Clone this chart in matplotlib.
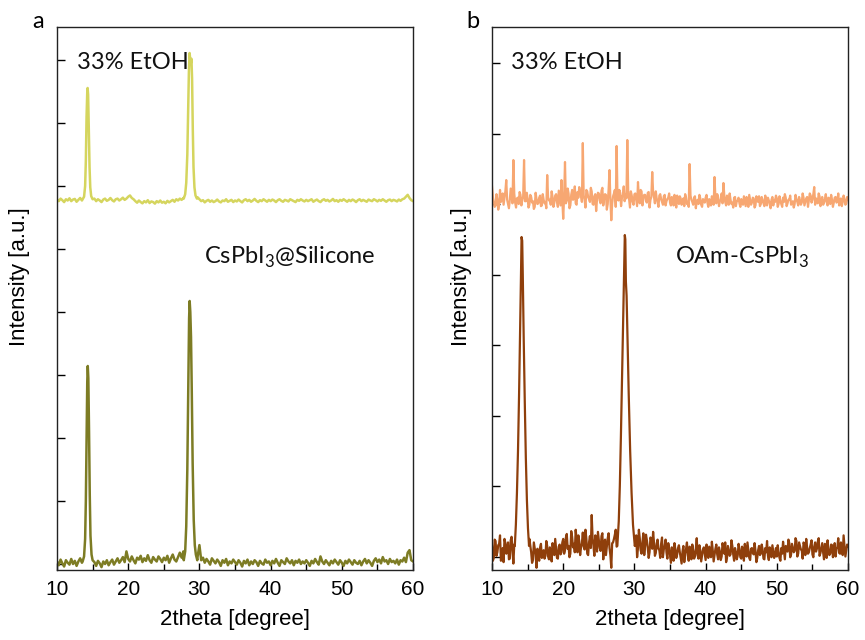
import numpy as np
import matplotlib
matplotlib.use("Agg")
import matplotlib.pyplot as plt
from matplotlib.ticker import MultipleLocator

plt.rcParams['font.family'] = ['Liberation Sans', 'DejaVu Sans']
plt.rcParams['mathtext.fontset'] = 'custom'
plt.rcParams['mathtext.rm'] = 'Lato'

# 2theta grid of the background points (0.25 deg steps) and the in-between points
tt_grid = np.linspace(10, 60, 201)
tt_mid = np.linspace(10.125, 59.875, 200)

# panel a, top: 33% EtOH (CsPbI3@Silicone)
a_top_base = [
    5790, 5760, 5800, 5775, 5745, 5790, 5770, 5805, 5760, 5785, 5795, 5750, 5780, 5810, 5770, 5790, 5780, 5790, 5800, 5785,
    5775, 5800, 5760, 5790, 5770, 5745, 5785, 5800, 5765, 5780, 5810, 5775, 5755, 5790, 5800, 5770, 5790, 5815, 5780, 5800,
    5830, 5850, 5810, 5790, 5760, 5735, 5770, 5745, 5725, 5760, 5740, 5775, 5730, 5755, 5745, 5720, 5760, 5740, 5770, 5735,
    5750, 5725, 5765, 5740, 5760, 5780, 5750, 5790, 5770, 5800, 5780, 5810, 5800, 5800, 5800, 5800, 5800, 5800, 5800, 5820,
    5790, 5760, 5775, 5740, 5765, 5780, 5750, 5770, 5745, 5760, 5785, 5755, 5740, 5770, 5760, 5790, 5750, 5765, 5780, 5745,
    5770, 5755, 5785, 5760, 5740, 5775, 5790, 5760, 5780, 5750, 5770, 5795, 5765, 5745, 5775, 5760, 5790, 5770, 5750, 5780,
    5760, 5785, 5770, 5745, 5775, 5790, 5765, 5750, 5780, 5770, 5755, 5790, 5775, 5760, 5745, 5780, 5765, 5790, 5770, 5755,
    5780, 5760, 5775, 5790, 5750, 5770, 5785, 5760, 5745, 5775, 5790, 5765, 5780, 5755, 5770, 5795, 5760, 5775, 5750, 5780,
    5765, 5790, 5770, 5750, 5780, 5760, 5785, 5770, 5745, 5775, 5790, 5760, 5780, 5765, 5750, 5785, 5770, 5760, 5790, 5775,
    5755, 5780, 5765, 5790, 5770, 5750, 5775, 5785, 5760, 5780, 5770, 5755, 5785, 5765, 5790, 5800, 5830, 5860, 5810, 5775,
    5760]
a_top_peaks = [
    ([13.6, 13.8, 13.95, 14.05, 14.15, 14.25, 14.3, 14.37, 14.47, 14.57, 14.67, 14.8, 15.0],
     [5790, 5830, 6000, 6400, 7100, 7500, 7556, 7450, 6900, 6300, 5980, 5840, 5790]),
    ([27.8, 28.0, 28.15, 28.3, 28.42, 28.52, 28.62, 28.72, 28.8, 28.88, 28.97, 29.07, 29.17, 29.3, 29.45, 29.65],
     [5800, 5870, 6050, 6500, 7200, 7800, 8111, 8000, 7950, 8020, 7700, 6900, 6300, 5980, 5850, 5800]),
]

# panel a, bottom: CsPbI3@Silicone as made
a_bot_base = [
    40, -20, 70, 10, -40, 60, 20, -10, 80, 0, 50, -30, 40, 90, 20, 60, 0, 0, 0, 0,
    80, 30, -30, 50, 10, -50, 40, 0, 60, -20, 30, 70, -10, 40, 90, 20, 60, 110, 30, 200,
    80, 40, 120, 60, 10, 100, 70, 130, 30, 90, 50, 140, 60, 20, 110, 70, 40, 120, 80, 30,
    100, 60, 130, 20, 90, 150, 70, 40, 110, 180, 100, 200, 0, 0, 0, 0, 0, 0, 0, 120,
    300, 60, 100, 20, 80, 40, -10, 90, 50, 10, 70, 30, -30, 60, 20, 80, -20, 40, 10, 70,
    30, -10, 60, 20, -40, 50, 10, 70, -20, 40, 0, 60, 30, -30, 50, 10, -10, 70, 20, 40,
    -20, 50, 10, 80, 20, -30, 60, 30, 0, 90, 40, 10, 60, -20, 50, 20, 70, 0, 40, 10,
    60, 20, -30, 50, 10, 80, 30, -10, 120, 40, 0, 60, 20, -20, 50, 10, 70, 30, -10, 60,
    20, -30, 50, 10, 70, 30, -10, 60, 20, 0, 50, -20, 40, 80, 10, 60, 20, -30, 50, 90,
    30, 70, 10, 110, 40, 60, 0, 80, 30, 50, 10, 70, -10, 60, 40, 100, 30, 180, 220, 60,
    40]
a_bot_peaks = [
    ([13.6, 13.8, 13.95, 14.05, 14.15, 14.25, 14.32, 14.4, 14.5, 14.6, 14.7, 14.85, 15.0],
     [40, 120, 400, 1000, 2000, 2900, 3143, 2950, 2100, 1100, 450, 150, 60]),
    ([27.8, 28.0, 28.15, 28.3, 28.45, 28.55, 28.63, 28.72, 28.82, 28.92, 29.05, 29.2, 29.35, 29.5, 29.7],
     [60, 200, 600, 1500, 2900, 3900, 4175, 4000, 3600, 2800, 1600, 700, 300, 150, 60]),
]

# panel b, top: 33% EtOH (OAm-CsPbI3)
b_top_base = [
    5250, 5020, 4980, 5060, 4990, 5030, 5150, 5090, 5340, 5000, 5060, 5110, 5624, 5020, 5080, 5000, 5130, 5060, 5624, 5040,
    5080, 4990, 5100, 5040, 4960, 5070, 5010, 5120, 4980, 5060, 5030, 5411, 5050, 4990, 5100, 5020, 5140, 4960, 5080, 5340,
    4790, 5596, 5050, 5150, 4980, 5200, 5080, 5010, 5170, 5240, 5120, 5865, 5060, 5200, 5100, 5030, 5180, 4990, 5140, 5070,
    5150, 5010, 5230, 5080, 5130, 5000, 5482, 4770, 5110, 5200, 5823, 5050, 5160, 5090, 5250, 5140, 5908, 5070, 5180, 5030,
    5140, 5060, 5312, 5010, 5180, 5090, 5130, 5020, 5170, 5060, 5454, 5100, 5180, 5030, 5120, 5070, 4990, 5130, 5040, 5090,
    5020, 5100, 4980, 5060, 5120, 5000, 5080, 5040, 4970, 5090, 5030, 5567, 5060, 4990, 5110, 5040, 5000, 5080, 4960, 5050,
    5090, 5020, 5070, 4980, 5060, 5383, 5010, 5100, 5040, 5150, 5298, 5030, 5120, 4990, 5060, 5020, 5090, 4970, 5050, 5010,
    5070, 4990, 5040, 5100, 4960, 5060, 5020, 5080, 4980, 5050, 5110, 5000, 5060, 4970, 5040, 5090, 5010, 5060, 4980, 5030,
    5080, 5000, 5050, 4960, 5030, 5090, 5010, 5060, 4990, 5040, 5000, 5070, 4980, 5050, 5020, 5090, 5030, 5100, 5050, 5120,
    5060, 5241, 5080, 5010, 5110, 5050, 4990, 5070, 5030, 5090, 5000, 5060, 5020, 5100, 5040, 4980, 5080, 5030, 5070, 5010,
    5060]
b_top_mid = [
    5100, 4960, 5140, 4920, 5200, 5080, 4990, 5180, 5060, 4940, 5220, 5010, 5150, 4950, 5090, 5170, 4980, 5110, 5040, 5160,
    4950, 5130, 5020, 4930, 5160, 5000, 5090, 4970, 5140, 5010, 4940, 5100, 5060, 5180, 4960, 5120, 5030, 5190, 4980, 5040,
    5100, 5010, 5220, 4940, 5130, 5060, 5250, 4990, 5090, 5170, 5030, 5120, 4950, 5180, 5070, 5230, 5000, 5110, 4900, 5160,
    5050, 5190, 4980, 5140, 4920, 5210, 5060, 5010, 5150, 4960, 5090, 5200, 4970, 5130, 5040, 5080, 5190, 4950, 5120, 4990,
    5150, 4970, 5090, 5200, 4980, 5130, 5040, 5160, 4950, 5100, 5170, 5010, 5080, 4960, 5140, 5030, 5110, 4980, 5070, 5150,
    4980, 5070, 5130, 4950, 5040, 5110, 4990, 5080, 5140, 5000, 4960, 5120, 5030, 5090, 4940, 5060, 5130, 4990, 5070, 5020,
    5130, 4960, 5050, 5110, 4990, 5080, 5140, 4970, 5060, 5010, 5120, 4980, 5070, 5150, 5000, 4950, 5100, 5040, 5090, 4960,
    5020, 5110, 4970, 5060, 5130, 4990, 5090, 4950, 5110, 5030, 4970, 5100, 5010, 5120, 4980, 5050, 4940, 5100, 5060, 5120,
    4960, 5110, 5000, 5090, 5140, 4970, 5060, 5120, 5010, 4950, 5130, 5030, 5100, 4990, 5150, 4980, 5080, 4960, 5150, 5020,
    5140, 4990, 5060, 5150, 4970, 5100, 5020, 5140, 4980, 5060, 5130, 4960, 5090, 5020, 5150, 5040, 4970, 5120, 4990, 5100]
b_top_peaks = []

# panel b, bottom: OAm-CsPbI3 as made
b_bot_base = [
    150, -20, 220, 60, 180, -60, 120, 250, 40, 200, -30, 280, -100, 0, 0, 0, 0, 0, 0, 0,
    0, 250, 60, -50, 120, -160, 40, 130, -20, 90, 10, 150, -40, 80, 190, 20, 110, -30, 170, 60,
    250, 90, 320, 150, 40, 280, 180, 380, 60, 220, 130, 340, 100, 250, 20, 290, 589, 150, 300, 70,
    230, 80, 330, 180, 20, 260, 120, -160, 200, 310, 140, 0, 0, 0, 0, 0, 0, 0, 0, 0,
    0, 300, 120, 260, 40, 330, 150, 230, -20, 270, 110, 200, 50, 240, 90, 180, -10, 150, 60, 190,
    20, 130, -60, 100, 30, 160, -20, 70, -80, 110, 10, 140, -40, 90, 0, 260, -30, 80, 20, 130,
    -50, 60, 140, -10, 90, 20, 170, -40, 70, 0, 120, 200, -20, 80, 30, 150, -60, 60, 10, 110,
    -30, 70, 180, 0, 90, -50, 120, 30, 80, -20, 150, 40, 100, -40, 60, 10, 130, -10, 70, 30,
    0, 60, -60, 40, 90, 150, 70, 190, 30, 120, 80, 220, 40, 150, 90, 200, 20, 130, 60, 170,
    30, 140, 70, 210, 10, 120, 60, 180, -20, 100, 40, 160, 80, 0, 130, 50, 200, 20, 150, 90,
    150]
b_bot_mid = [
    -60, 240, 10, 160, 300, 20, -80, 190, 110, -40, 230, 90, 170, 0, 0, 0, 0, 0, 0, 0,
    0, 160, -90, 200, 30, 110, -60, 180, 60, -30, 220, 0, 130, -70, 90, 250, -20, 140, 30, 200,
    40, 270, 110, -10, 360, 130, 60, 250, 300, 20, 190, 140, 380, 40, 200, 120, 260, 10, 230, 350,
    120, 290, -40, 240, 140, 330, 20, 190, 250, 380, 0, 0, 0, 0, 0, 0, 0, 0, 0, 0,
    180, -10, 380, 90, 200, 20, 310, 120, 60, 230, 350, 10, 180, 110, -20, 270, 100, 240, -30, 120,
    -90, 90, 190, -20, 120, 60, -100, 150, 40, 200, -60, 80, 170, -30, 110, 20, 160, -70, 100, 40,
    170, -20, 60, 210, -70, 110, 30, 130, -50, 190, 40, -80, 150, 10, 230, 30, 120, -40, 180, -10,
    140, -60, 80, 200, -20, 110, 50, 190, -80, 90, 20, 170, -30, 120, 220, -50, 70, 160, -20, 120,
    160, -20, 120, 210, -40, 80, 240, -10, 180, 60, 260, 0, 200, 100, -30, 170, 250, 40, 120, 230,
    -10, 200, 110, 260, 50, 190, -40, 150, 230, 20, 170, -10, 190, 110, 260, 40, 120, 300, 0, 170]
b_bot_peaks = [
    ([13.2, 13.35, 13.5, 13.65, 13.8, 13.95, 14.07, 14.15, 14.24, 14.32, 14.45, 14.6, 14.75, 14.9, 15.05, 15.2],
     [150, 450, 900, 1500, 2300, 3200, 4000, 4532, 4480, 4000, 3100, 2200, 1400, 800, 400, 150]),
    ([27.6, 27.8, 27.95, 28.1, 28.25, 28.4, 28.55, 28.65, 28.72, 28.8, 28.9, 29.05, 29.2, 29.4, 29.6, 29.8, 30.05],
     [150, 500, 1000, 1700, 2500, 3300, 4100, 4560, 4500, 3900, 3700, 3000, 2300, 1500, 900, 450, 150]),
]

col_a_top = '#d5d55e'
col_a_bot = '#7d7c24'
col_b_top = '#f7a772'
col_b_bot = '#8f3f0b'


def build_trace(bases, peaks):
    """background points (one or more grids) + peak points, sorted along 2theta"""
    xs_all, ys_all = [], []
    for x, vals in bases:
        y = np.array(vals, dtype=float)
        keep = np.ones(len(x), dtype=bool)
        for px, py in peaks:
            keep &= ~((x >= min(px)) & (x <= max(px)))
        xs_all.append(x[keep])
        ys_all.append(y[keep])
    for px, py in peaks:
        xs_all.append(np.array(px, float))
        ys_all.append(np.array(py, float))
    xs = np.concatenate(xs_all)
    ys = np.concatenate(ys_all)
    order = np.argsort(xs, kind='stable')
    return xs[order], ys[order]


def style_axes(ax, ylim, yticks, label_x):
    ax.set_xlim(10, 60)
    ax.set_ylim(*ylim)
    ax.set_yticks(yticks)
    ax.set_yticklabels([])
    ax.xaxis.set_major_locator(MultipleLocator(10))
    ax.xaxis.set_minor_locator(MultipleLocator(5))
    ax.tick_params(axis='x', which='major', direction='in', length=5, width=1,
                   labelsize=15, pad=7, top=False)
    ax.tick_params(axis='x', which='minor', direction='in', length=4, width=1, top=False)
    ax.tick_params(axis='y', direction='in', length=6, width=1, right=False)
    for sp in ax.spines.values():
        sp.set_linewidth(1.0)
        sp.set_color('#222222')
    ax.set_xlabel('2theta [degree]', fontsize=16)
    ax.set_ylabel('Intensity [a.u.]', fontsize=16)
    ax.xaxis.set_label_coords(0.5, -0.072)
    ax.yaxis.set_label_coords(label_x, 0.541)


fig = plt.figure(figsize=(8.65, 6.4), dpi=100)
ax_a = fig.add_axes([0.0659, 0.1094, 0.4116, 0.8484])
ax_b = fig.add_axes([0.5688, 0.1094, 0.4116, 0.8484])

xs, ys = build_trace([(tt_grid, a_top_base)], a_top_peaks)
ax_a.plot(xs, ys, color=col_a_top, lw=1.8)
xs, ys = build_trace([(tt_grid, a_bot_base)], a_bot_peaks)
ax_a.plot(xs, ys, color=col_a_bot, lw=1.8)

xs, ys = build_trace([(tt_grid, b_top_base), (tt_mid, b_top_mid)], b_top_peaks)
ax_b.plot(xs, ys, color=col_b_top, lw=1.6)
xs, ys = build_trace([(tt_grid, b_bot_base), (tt_mid, b_bot_mid)], b_bot_peaks)
ax_b.plot(xs, ys, color=col_b_bot, lw=1.6)

style_axes(ax_a, (-95, 8524), np.arange(0, 9000, 1000), -0.076)
style_axes(ax_b, (-191, 7511), np.arange(0, 8000, 1000), -0.056)

lbl = dict(fontsize=17, family='Lato', va='center', ha='left', color='#111111')
ax_a.text(12.8, 7968, '33% EtOH', **lbl)
ax_a.text(30.6, 4873, r'CsPbI$_\mathrm{3}$@Silicone', **lbl)
ax_b.text(12.7, 7014, '33% EtOH', **lbl)
ax_b.text(35.7, 4248, r'OAm-CsPbI$_\mathrm{3}$', **lbl)

fig.text(0.044, 0.966, 'a', fontsize=17, family='Lato', ha='center', va='center')
fig.text(0.547, 0.966, 'b', fontsize=17, family='Lato', ha='center', va='center')

fig.savefig('out.png', dpi=100)
